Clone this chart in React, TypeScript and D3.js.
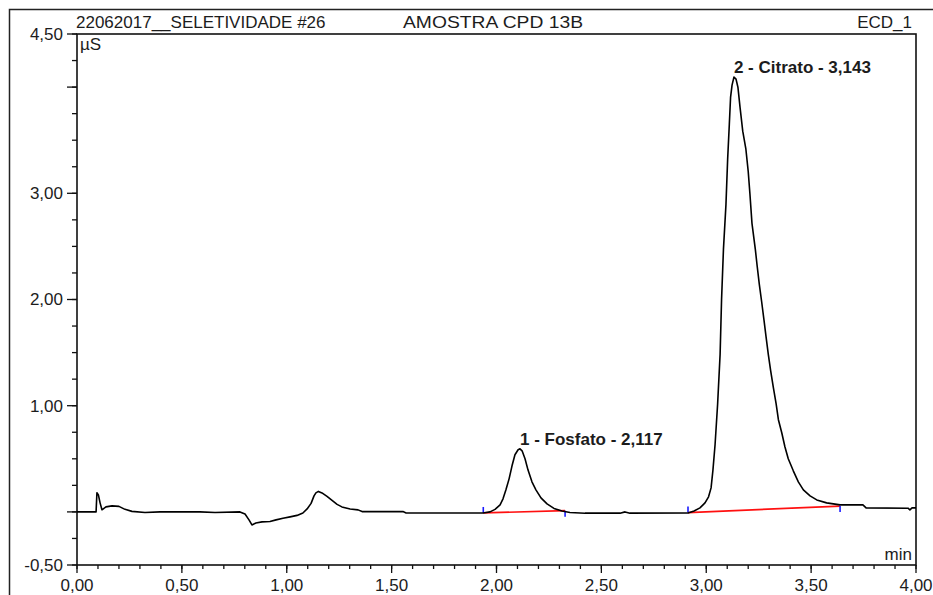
import React from "react";
import * as d3 from "d3";

// chromatogram trace (min, µS)
const times = [
  0.0, 0.091, 0.095, 0.102, 0.11, 0.119, 0.138, 0.167, 0.2, 0.229, 0.262, 0.324, 0.396, 0.586, 0.658, 0.777,
  0.801, 0.82, 0.834, 0.853, 0.882, 0.92, 0.949, 0.982, 1.016, 1.049, 1.077, 1.097, 1.116, 1.13, 1.139, 1.151,
  1.168, 1.192, 1.216, 1.24, 1.263, 1.302, 1.34, 1.359, 1.554, 1.569, 1.936,
  1.969, 1.993, 2.017, 2.031, 2.045, 2.06, 2.074, 2.088, 2.103, 2.112, 2.122, 2.136, 2.15, 2.169, 2.188, 2.212,
  2.241, 2.274, 2.312, 2.35, 2.422, 2.589, 2.613, 2.636, 2.913,
  2.942, 2.97, 2.994, 3.011, 3.023, 3.032, 3.042, 3.054, 3.066, 3.073, 3.082, 3.094, 3.102, 3.11, 3.116, 3.123,
  3.132, 3.142, 3.151, 3.161, 3.174, 3.189, 3.2, 3.208, 3.218, 3.234, 3.243, 3.253, 3.264, 3.275, 3.285, 3.296,
  3.307, 3.32, 3.333, 3.344, 3.36, 3.375, 3.391, 3.415, 3.439, 3.463, 3.495, 3.527, 3.574, 3.638, 3.747, 3.762,
  3.962, 3.971, 3.981, 4.0,
];
const signal = [
  0.0, 0.0, 0.18, 0.16, 0.085, 0.02, 0.047, 0.057, 0.052, 0.024, 0.005, -0.005, 0.0, 0.0, -0.005, 0.0,
  -0.02, -0.075, -0.123, -0.104, -0.094, -0.09, -0.075, -0.06, -0.047, -0.033, -0.01, 0.028, 0.08, 0.151, 0.179, 0.193,
  0.179, 0.146, 0.108, 0.071, 0.047, 0.028, 0.019, 0.003, 0.003, -0.01, -0.01,
  0.0, 0.024, 0.066, 0.123, 0.208, 0.311, 0.434, 0.538, 0.585, 0.594, 0.575, 0.5, 0.396, 0.283, 0.208, 0.132,
  0.075, 0.033, 0.009, -0.005, -0.012, -0.012, 0.0, -0.012, -0.01,
  0.009, 0.038, 0.085, 0.142, 0.226, 0.396, 0.632, 1.009, 1.481, 2.0, 2.472, 2.896, 3.321, 3.651, 3.906, 4.019,
  4.094, 4.075, 3.999, 3.811, 3.585, 3.415, 3.208, 3.0, 2.717, 2.472, 2.311, 2.142, 1.981, 1.811, 1.651, 1.481,
  1.33, 1.17, 1.019, 0.868, 0.745, 0.613, 0.5, 0.387, 0.283, 0.208, 0.151, 0.113, 0.085, 0.066, 0.066, 0.038,
  0.035, 0.019, 0.038, 0.038,
];

// peak labels and integration baselines
const peakNames = ["1 - Fosfato - 2,117", "2 - Citrato - 3,143"];
const peakTime = [2.112, 3.132];
const peakValue = [0.594, 4.094];
const baseStartTime = [1.937, 2.913];
const baseStartValue = [-0.01, -0.006];
const baseEndTime = [2.327, 3.638];
const baseEndValue = [0.012, 0.055];

const yMajor = [-0.5, 0, 1, 2, 3, 4, 4.5];
const yLabelled = [-0.5, 1, 2, 3, 4.5];

const font = "'Liberation Sans', Arial, sans-serif";
const ink = "#1c1c1c";
const fmt = (v: number) => v.toFixed(2).replace(".", ",");

const App = () => {
  const x = d3.scaleLinear().domain([0, 4]).range([77, 916]);
  const y = d3.scaleLinear().domain([-0.5, 4.5]).range([565, 34]);

  const yMinor = d3.range(-0.5, 4.501, 0.25);
  const xMinor = x.ticks(40);
  const xMajor = x.ticks(8);

  const line = d3
    .line<number>()
    .x((_, i) => x(times[i]))
    .y((d) => y(d));

  const [x0, x1] = x.range();
  const [yb, yt] = y.range();

  return (
    <svg width={933} height={595} style={{ position: "absolute", left: 0, top: 0, background: "#fff" }}>
      {/* outer frame, cut by the window edge */}
      <path d="M9.5,600 V9.5 H940" fill="none" stroke="#222" strokeWidth={1.5} />

      <g fontFamily={font} fontSize={17} fill={ink}>
        <text x={76} y={28}>22062017__SELETIVIDADE #26</text>
        <text x={403} y={28} textLength={180} lengthAdjust="spacingAndGlyphs">AMOSTRA CPD 13B</text>
        <text x={912} y={28} textAnchor="end">ECD_1</text>
        <text x={80} y={50}>µS</text>
        <text x={912} y={560} textAnchor="end">min</text>
      </g>

      {/* plot box */}
      <rect x={x0} y={yt} width={x1 - x0} height={yb - yt} fill="none" stroke="#111" strokeWidth={1.6} />

      {/* y axis ticks */}
      {yMinor.map((v) => (
        <line key={"ym" + v} x1={x0 - 5} x2={x0} y1={y(v)} y2={y(v)} stroke="#111" strokeWidth={1.3} />
      ))}
      {yMajor.map((v) => (
        <line key={"yM" + v} x1={x0 - 10} x2={x0} y1={y(v)} y2={y(v)} stroke="#111" strokeWidth={1.3} />
      ))}
      {yLabelled.map((v) => (
        <text key={"yl" + v} x={63} y={y(v)} dy="0.35em" textAnchor="end" fontFamily={font} fontSize={17} fill={ink}>
          {fmt(v)}
        </text>
      ))}

      {/* x axis ticks */}
      {xMinor.map((v) => (
        <line key={"xm" + v} x1={x(v)} x2={x(v)} y1={yb} y2={yb + 4} stroke="#111" strokeWidth={1.3} />
      ))}
      {xMajor.map((v) => (
        <line key={"xM" + v} x1={x(v)} x2={x(v)} y1={yb} y2={yb + 8} stroke="#111" strokeWidth={1.3} />
      ))}
      {xMajor.map((v) => (
        <text key={"xl" + v} x={x(v)} y={591} textAnchor="middle" fontFamily={font} fontSize={17} fill={ink}>
          {fmt(v)}
        </text>
      ))}

      {/* integration baselines */}
      {baseStartTime.map((t, i) => (
        <g key={"b" + i}>
          <line
            x1={x(t)}
            y1={y(baseStartValue[i])}
            x2={x(baseEndTime[i])}
            y2={y(baseEndValue[i])}
            stroke="#ff1010"
            strokeWidth={1.7}
          />
          <line x1={x(t)} x2={x(t)} y1={y(baseStartValue[i]) - 6} y2={y(baseStartValue[i])} stroke="#1a1aff" strokeWidth={1.6} />
          <line
            x1={x(baseEndTime[i])}
            x2={x(baseEndTime[i])}
            y1={y(baseEndValue[i])}
            y2={y(baseEndValue[i]) + 6}
            stroke="#1a1aff"
            strokeWidth={1.6}
          />
        </g>
      ))}

      {/* signal */}
      <path d={line(signal) || ""} fill="none" stroke="#000" strokeWidth={1.6} strokeLinejoin="round" />

      {/* peak labels */}
      {peakNames.map((name, i) => (
        <text
          key={name}
          x={x(peakTime[i])}
          y={y(peakValue[i]) - 4}
          fontFamily={font}
          fontSize={17}
          fontWeight="bold"
          fill={ink}
        >
          {name}
        </text>
      ))}
    </svg>
  );
};

export default App;
